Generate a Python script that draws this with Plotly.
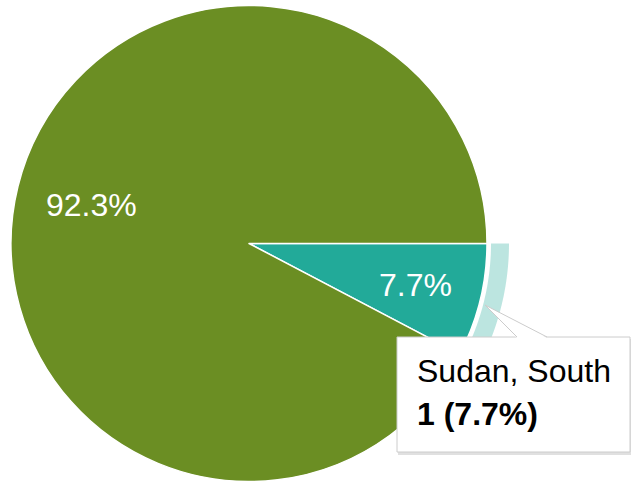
import numpy as np
import plotly.graph_objects as go

# Slice data
labels = ["Sudan, South", "Other"]
values = [1, 12]
colors = ["#22AA99", "#6B8E23"]

W, H = 631, 482
cx, cy, R = 249, 243.5, 238          # pie centre / radius in pixels
start_deg = 90                       # first slice starts at 3 o'clock, clockwise

total = sum(values)
fracs = [v / total for v in values]
pct_text = [f"{f * 100:.1f}%" for f in fracs]

fig = go.Figure()

fig.add_trace(go.Pie(
    labels=labels,
    values=values,
    sort=False,
    direction="clockwise",
    rotation=start_deg,
    marker=dict(colors=colors, line=dict(color="white", width=1.5)),
    textinfo="none",
    hoverinfo="skip",
    showlegend=False,
    domain=dict(x=[(cx - R) / W, (cx + R) / W], y=[0, (2 * R + 1) / H]),
))

# Slice angle ranges (degrees clockwise from 12 o'clock)
edges = start_deg + 360 * np.concatenate([[0], np.cumsum(fracs)])


def pt(r, deg):
    a = np.radians(deg)
    return cx + r * np.sin(a), cy - r * np.cos(a)


shapes = []

# Highlight ring around the hovered slice
a0, a1 = edges[0], edges[1]
ang = np.linspace(a0, a1, 60)
r_in, r_out = 242, 260
outer = [pt(r_out, a) for a in ang]
inner = [pt(r_in, a) for a in ang[::-1]]
ring = "M " + " L ".join(f"{x:.2f},{y:.2f}" for x, y in outer + inner) + " Z"
shapes.append(dict(type="path", path=ring, xref="x", yref="y",
                   fillcolor="rgba(34,170,153,0.3)", line=dict(width=0)))

FONT = "Arial, Liberation Sans"

# Percentage labels on the slices
label_r = [0.72, 0.68]
annotations = []
for i, txt in enumerate(pct_text):
    mid = (edges[i] + edges[i + 1]) / 2
    x, y = pt(R * label_r[i], mid)
    annotations.append(dict(x=x, y=y, xref="x", yref="y", text=txt, showarrow=False,
                            font=dict(family=FONT, size=32, color="white"),
                            xanchor="center", yanchor="middle"))

# Tooltip box
bx0, by0, bx1, by1 = 397, 337, 630, 452
tip = (485, 305)
base = (517, 547)
shapes.append(dict(type="rect", xref="x", yref="y", x0=bx0 + 1, y0=by0 + 2, x1=bx1 + 1, y1=by1 + 3,
                   fillcolor="rgba(0,0,0,0.12)", line=dict(width=0)))
shapes.append(dict(type="rect", xref="x", yref="y", x0=bx0, y0=by0, x1=bx1, y1=by1,
                   fillcolor="white", line=dict(color="#CCCCCC", width=1)))
shapes.append(dict(type="path", xref="x", yref="y",
                   path=f"M {base[0]},{by0 + 1} L {tip[0]},{tip[1]} L {base[1]},{by0 + 1} Z",
                   fillcolor="white", line=dict(width=0)))
shapes.append(dict(type="line", xref="x", yref="y", x0=base[0], y0=by0, x1=tip[0], y1=tip[1],
                   line=dict(color="#CCCCCC", width=1)))
shapes.append(dict(type="line", xref="x", yref="y", x0=base[1], y0=by0, x1=tip[0], y1=tip[1],
                   line=dict(color="#CCCCCC", width=1)))

annotations.append(dict(x=415, y=371, xref="x", yref="y", text=labels[0], showarrow=False,
                        font=dict(family=FONT, size=32, color="black"),
                        xanchor="left", yanchor="middle"))
annotations.append(dict(x=415, y=414, xref="x", yref="y",
                        text=f"<b>{values[0]} ({pct_text[0]})</b>", showarrow=False,
                        font=dict(family=FONT, size=32, color="black"),
                        xanchor="left", yanchor="middle"))

fig.update_layout(
    width=W, height=H,
    margin=dict(l=0, r=0, t=0, b=0),
    paper_bgcolor="white", plot_bgcolor="rgba(0,0,0,0)",
    xaxis=dict(range=[0, W], visible=False, fixedrange=True),
    yaxis=dict(range=[H, 0], visible=False, fixedrange=True),
    shapes=shapes,
    annotations=annotations,
    hovermode=False,
)

fig.write_html("out.html", config={"displayModeBar": False})
